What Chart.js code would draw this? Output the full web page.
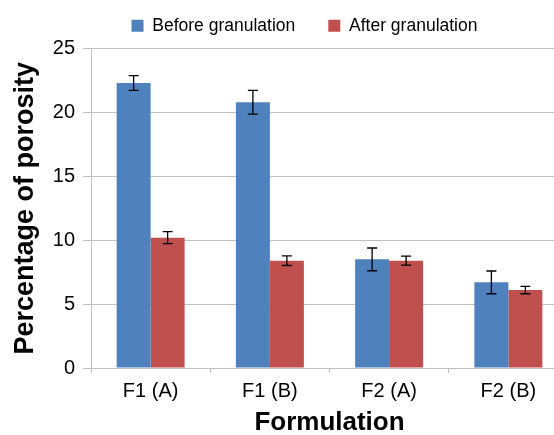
<!DOCTYPE html>
<html>
<head>
<meta charset="utf-8">
<script src="https://cdn.jsdelivr.net/npm/chart.js@4.4.1/dist/chart.umd.min.js"></script>
<style>
  html, body { margin: 0; padding: 0; background: #fff; overflow: hidden; }
  #wrap { width: 609px; height: 435px; }
</style>
</head>
<body>
<div id="wrap"><canvas id="porosity"></canvas></div>
<script>
const formulations = ['F1 (A)', 'F1 (B)', 'F2 (A)', 'F2 (B)'];
const beforeGran = [22.3, 20.8, 8.5, 6.7];
const beforeErr = [0.58, 0.93, 0.89, 0.89];
const afterGran = [10.2, 8.4, 8.4, 6.1];
const afterErr = [0.47, 0.38, 0.35, 0.29];

const GRID = '#bfbfbf';
const FONT = "'Liberation Sans', Arial, sans-serif";

// whiskers drawn through the y scale
const errorBars = {
    id: 'errorBars',
    afterDatasetsDraw(chart) {
        const ctx = chart.ctx;
        const y = chart.scales.y;
        chart.data.datasets.forEach((ds, i) => {
            const meta = chart.getDatasetMeta(i);
            if (meta.hidden) return;
            meta.data.forEach((bar, j) => {
                const v = ds.data[j], e = ds.errors[j];
                const yTop = y.getPixelForValue(v + e);
                const yBot = y.getPixelForValue(v - e);
                const x = bar.x, w = 5;
                ctx.save();
                ctx.strokeStyle = '#000';
                ctx.lineWidth = 1.3;
                ctx.beginPath();
                ctx.moveTo(x, yTop); ctx.lineTo(x, yBot);
                ctx.moveTo(x - w, yTop); ctx.lineTo(x + w, yTop);
                ctx.moveTo(x - w, yBot); ctx.lineTo(x + w, yBot);
                ctx.stroke();
                ctx.restore();
            });
        });
    }
};

// a little extra room under the legend
const legendGap = {
    id: 'legendGap',
    afterInit(chart) {
        const lg = chart.legend;
        if (!lg) return;
        const fit = lg.fit;
        lg.fit = function () {
            fit.call(this);
            this.height += 4;
        };
    }
};

new Chart(document.getElementById('porosity'), {
    type: 'bar',
    data: {
        labels: formulations,
        datasets: [
            {
                label: 'Before granulation',
                data: beforeGran,
                errors: beforeErr,
                backgroundColor: '#4f81bd'
            },
            {
                label: 'After granulation',
                data: afterGran,
                errors: afterErr,
                backgroundColor: '#c0504d'
            }
        ]
    },
    options: {
        responsive: true,
        maintainAspectRatio: false,
        animation: false,
        devicePixelRatio: 1,
        layout: { padding: { top: -16, right: 0, left: 0, bottom: 0 } },
        datasets: { bar: { categoryPercentage: 0.57, barPercentage: 1.0 } },
        plugins: {
            legend: {
                position: 'top',
                labels: {
                    font: { family: FONT, size: 17.5 },
                    color: '#000',
                    boxWidth: 12,
                    boxHeight: 12,
                    padding: 33
                }
            },
            tooltip: { enabled: false }
        },
        scales: {
            x: {
                grid: {
                    display: true,
                    drawOnChartArea: false,
                    drawTicks: true,
                    tickLength: 5,
                    color: GRID,
                    offset: true
                },
                border: { color: GRID },
                ticks: { font: { family: FONT, size: 20 }, color: '#000', padding: 6 },
                title: {
                    display: true,
                    text: 'Formulation',
                    font: { family: FONT, size: 26, weight: 'bold', lineHeight: 0.95 },
                    color: '#000',
                    padding: { top: 0, bottom: 0 }
                },
                afterFit(scale) { scale.height = 67; }
            },
            y: {
                min: 0,
                max: 25,
                ticks: { stepSize: 5, font: { family: FONT, size: 20 }, color: '#000', padding: 8 },
                grid: { color: GRID, tickLength: 8 },
                border: { color: GRID },
                title: {
                    display: true,
                    text: 'Percentage of porosity',
                    font: { family: FONT, size: 27, weight: 'bold' },
                    color: '#000',
                    padding: { top: 9, bottom: 0 }
                },
                afterFit(scale) { scale.width = 91; }
            },
            // empty right-hand strip: the plot runs past the picture's right edge
            yRight: {
                position: 'right',
                min: 0,
                max: 25,
                grid: { display: false },
                ticks: { display: false },
                border: { display: false },
                afterFit(scale) { scale.width = 41; }
            }
        }
    },
    plugins: [errorBars, legendGap]
});
</script>
</body>
</html>
